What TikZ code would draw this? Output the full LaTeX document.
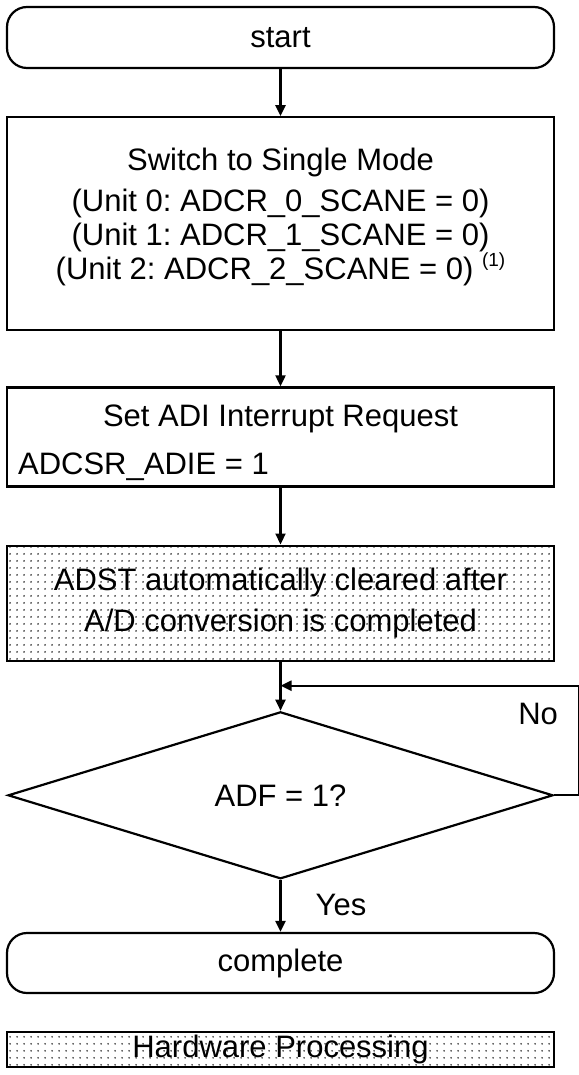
\documentclass[tikz,border=0pt]{standalone}
\usepackage{fontspec}
\setmainfont{Liberation Sans}
\usetikzlibrary{positioning,shapes.geometric,arrows.meta,patterns.meta}

\newcommand{\flowfont}{\fontsize{31}{34}\selectfont\frenchspacing}

% sparse dot raster for the hardware steps
\tikzdeclarepattern{
  name=hwdots,
  type=uncolored,
  bounding box={(0pt,0pt) and (7pt,7pt)},
  tile size={(7pt,7pt)},
  code={\fill (3.5pt,3.5pt) circle (1.05pt);}
}

\tikzset{
  flow/.style={draw, line width=2.2pt, minimum width=547pt, inner sep=0pt, align=center, font=\flowfont},
  terminal/.style={flow, rectangle, rounded corners=20pt},
  process/.style={flow, rectangle},
  hwbox/.style={process, pattern=hwdots, pattern color=black!80},
  decision/.style={flow, diamond, minimum width=545pt, minimum height=167pt},
  branchtxt/.style={font=\flowfont, inner sep=0pt, align=center},
  link/.style={line width=2.2pt, -{Triangle[length=11pt,width=10pt]}}
}

\begin{document}
\begin{tikzpicture}[x=1pt,y=1pt]
\useasboundingbox (0,0) rectangle (578,-1075);

\node[terminal, minimum height=61pt] (start) at (280.5,-37.5) {start};

\node[process, minimum height=213pt, below=47pt of start] (single) {};
\node[branchtxt] (singletxt) at ([yshift=7pt]single.center) {
  Switch to Single Mode\\[7pt]
  (Unit 0: ADCR\_0\_SCANE = 0)\\
  (Unit 1: ADCR\_1\_SCANE = 0)\\
  (Unit 2: ADCR\_2\_SCANE = 0) \raisebox{13pt}{\fontsize{19}{19}\selectfont (1)}
};

% interrupt box: heading centred, register line set flush left
\node[process, minimum height=99pt, below=55pt of single] (irq) {};
\node[branchtxt, anchor=base] (irqhead) at ([yshift=-40pt]irq.north) {Set ADI Interrupt Request};
\node[branchtxt, anchor=base west] (adie) at ([xshift=12pt,yshift=-37.5pt]irq.west) {ADCSR\_ADIE = 1};

\node[hwbox, minimum height=115pt, below=57pt of irq] (adst) {
  ADST automatically cleared after\\[7pt]
  A/D conversion is completed
};

\node[decision, below=49pt of adst] (adf) {ADF = 1?};

\node[terminal, minimum height=60pt, below=52pt of adf] (done) {complete};

\node[hwbox, minimum height=35pt, below=37pt of done] (legend) {Hardware Processing};

% connectors
\draw[link] (start) -- (single);
\draw[link] (single) -- (irq);
\draw[link] (irq) -- (adst);
\draw[link] (adst) -- (adf);
\draw[link] (adf) -- (done);

% polling loop
\coordinate (merge) at ([yshift=-24pt]adst.south);
\coordinate (loopcorner) at ([xshift=25pt]adf.east);
\coordinate (looptop) at (loopcorner |- merge);
\draw[line width=2.2pt] (adf.east) -- (loopcorner) -- (looptop);
\draw[link] (looptop) -- (merge);

\node[branchtxt] (no) at ([xshift=-41pt,yshift=-28pt]looptop) {No};
\node[branchtxt, anchor=west] (yes) at ([xshift=35pt,yshift=-25pt]adf.south) {Yes};
\end{tikzpicture}
\end{document}
